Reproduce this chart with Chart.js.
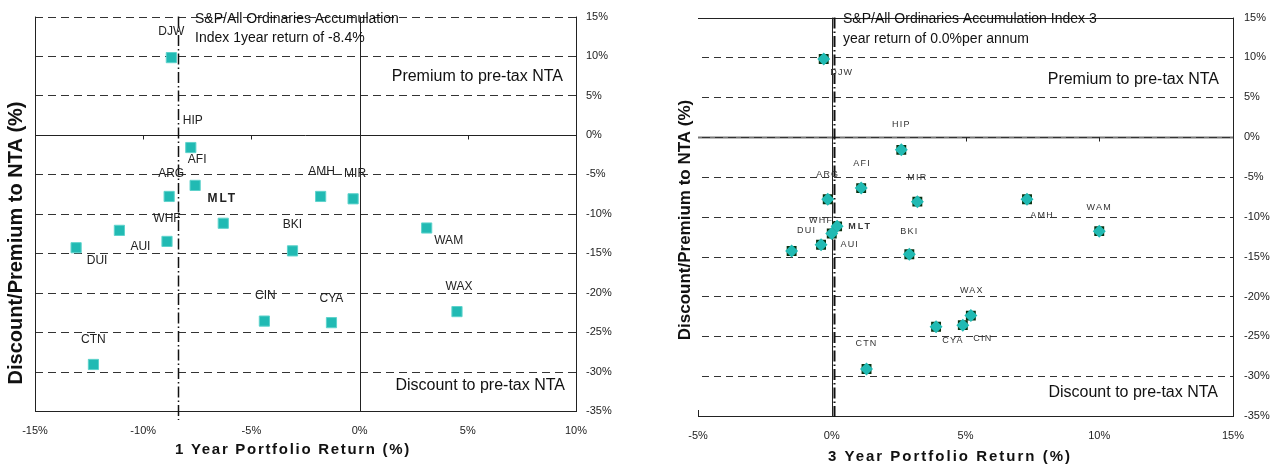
<!DOCTYPE html>
<html><head><meta charset="utf-8">
<script src="https://cdn.jsdelivr.net/npm/chart.js@4.4.1/dist/chart.umd.min.js"></script>
<style>
html,body{margin:0;padding:0;background:#fff;width:1279px;height:468px;overflow:hidden}
.box{position:absolute;top:0;height:468px}
</style></head><body>
<div class="box" style="left:0;width:640px"><canvas id="c1" width="640" height="468"></canvas></div>
<div class="box" style="left:640px;width:639px"><canvas id="c2" width="639" height="468"></canvas></div>
<script>
// ---------- data ----------
const tickers       = ['DJW','HIP','AFI','ARG','AMH','MIR','MLT','WHF','AUI','DUI','BKI','WAM','WAX','CYA','CIN','CTN'];
const premiumToNta  = [9.8,-1.6,-6.4,-7.8,-7.8,-8.1,-11.2,-13.5,-12.1,-14.3,-14.7,-11.8,-22.4,-23.8,-23.6,-29.1];
const returnOneYear = [-8.7,-7.8,-7.6,-8.8,-1.8,-0.3,-6.3,-8.9,-11.1,-13.1,-3.1,3.1,4.5,-1.3,-4.4,-12.3];
const returnThreeYear = [-0.3,2.6,1.1,-0.15,7.3,3.2,0.2,-0.4,0.0,-1.5,2.9,10.0,5.2,3.9,4.9,1.3];
const indexReturnOneYear = -8.4;
const indexReturnThreeYear = 0.0;
const xTicksOneYear = [-15,-10,-5,0,5,10];
const xTicksThreeYear = [-5,0,5,10,15];
const yTicks = [15,10,5,0,-5,-10,-15,-20,-25,-30,-35];

// ---------- styles ----------
const FONT = "'Liberation Sans', Arial, sans-serif";
const TEAL = '#21bab3';
const labelOffsetsOne = {DJW:[0,-26],HIP:[2,-27],AFI:[2,-26],ARG:[2,-23],AMH:[1,-25],MIR:[2,-25],MLT:[-1,-25],WHF:[0,-23],AUI:[21,16],DUI:[21,13],BKI:[0,-26],WAM:[22,13],WAX:[2,-25],CYA:[0,-24],CIN:[1,-25],CTN:[0,-25]};
const labelOffsetsThree = {DJW:[18,13],HIP:[0,-25],AFI:[1,-25],ARG:[0,-25],AMH:[15,16],MIR:[0,-24],MLT:[23,0],WHF:[0,-24],AUI:[18,11],DUI:[15,-21],BKI:[0,-23],WAM:[0,-24],WAX:[1,-25],CYA:[17,14],CIN:[20,13],CTN:[0,-25]};

function dashedH(ctx, x1, x2, y, dash, color, w){
  ctx.save(); ctx.beginPath(); ctx.setLineDash(dash); ctx.strokeStyle=color; ctx.lineWidth=w;
  ctx.moveTo(x1,y); ctx.lineTo(x2,y); ctx.stroke(); ctx.restore();
}
function lineV(ctx, x, y1, y2, dash, color, w){
  ctx.save(); ctx.beginPath(); ctx.setLineDash(dash); ctx.strokeStyle=color; ctx.lineWidth=w;
  ctx.moveTo(x,y1); ctx.lineTo(x,y2); ctx.stroke(); ctx.restore();
}
function text(ctx, s, x, y, font, align, spacing, color){
  ctx.save(); ctx.font=font; ctx.fillStyle=color||'#111'; ctx.textAlign=align; ctx.textBaseline='middle';
  ctx.letterSpacing = spacing||'0px'; ctx.fillText(s,x,y); ctx.restore();
}

function framePlugin(cfg){
  return {
    id:'frame',
    beforeDatasetsDraw(chart){
      const {ctx, chartArea:a, scales:{x,y}} = chart;
      const L=a.left, R=a.right, T=a.top, B=a.bottom;
      const sx = v => Math.round(x.getPixelForValue(v))+0.5;
      const sy = v => Math.round(y.getPixelForValue(v))+0.5;
      yTicks.forEach(v=>{
        if (v===0 || v===-35) return;
        if (cfg.three && v===15) return;
        dashedH(ctx, cfg.three? L+4 : L, R, sy(v), cfg.dash, '#333', 1);
      });
      if (cfg.three) { dashedH(ctx, L, R, sy(0), [], '#777', 2); dashedH(ctx, L+4, R, sy(0), [8,5], '#333', 1); }
      else dashedH(ctx, L, R, sy(0), [], '#222', 1);
      cfg.xTicks.forEach(v=>{ if (v!==0 && v!==cfg.xTicks[0] && v!==cfg.xTicks[cfg.xTicks.length-1]) lineV(ctx, sx(v), sy(0), sy(0)+4, [], '#222', 1); });
      lineV(ctx, Math.round(R)+0.5, T, B, [], '#222', 1);
      dashedH(ctx, L, R+1, Math.round(B)+0.5, [], '#222', 1.2);
      if (cfg.three) { dashedH(ctx, L, R+1, Math.round(T)+0.5, [], '#222', 1); lineV(ctx, Math.round(L)+0.5, B-6, B, [], '#222', 1); }
      else lineV(ctx, Math.round(L)+0.5, T, B, [], '#222', 1);
      lineV(ctx, sx(0), T, B, [], '#222', 1);
      lineV(ctx, sx(cfg.indexReturn)+cfg.indexShift, T, B+cfg.indexOver, [11,3,1.5,3], '#111', cfg.indexW);
      text(ctx, cfg.note1, cfg.noteX, cfg.noteY1, '14px '+FONT, 'left', '0px', '#111');
      text(ctx, cfg.note2, cfg.noteX, cfg.noteY2, '14px '+FONT, 'left', '0px', '#111');
      text(ctx, 'Premium to pre-tax NTA', R+cfg.premDX, cfg.premY, '16px '+FONT, 'right', '0px', '#111');
      text(ctx, 'Discount to pre-tax NTA', R+cfg.discDX, cfg.discY, '16px '+FONT, 'right', '0px', '#111');
    },
    afterDatasetsDraw(chart){
      const {ctx} = chart;
      const meta = chart.getDatasetMeta(0);
      meta.data.forEach((pt,i)=>{
        const name = tickers[i];
        const off = cfg.offsets[name];
        const bold = name==='MLT';
        text(ctx, name, pt.x+off[0], pt.y+off[1], (bold?'bold ':'')+cfg.labelSize+'px '+FONT, 'center', bold?'2px':cfg.labelSpacing, cfg.labelColor);
      });
    },
    afterDraw(chart){
      const {ctx} = chart;
      text(ctx, cfg.xTitle, cfg.xTitleX, cfg.xTitleY, 'bold '+cfg.xTitleSize+'px '+FONT, 'center', cfg.xTitleSpacing, '#111');
      ctx.save(); ctx.translate(cfg.yTitleX, cfg.yTitleY); ctx.rotate(-Math.PI/2);
      text(ctx, 'Discount/Premium to NTA (%)', 0, 0, 'bold '+cfg.yTitleSize+'px '+FONT, 'center', '0px', '#111');
      ctx.restore();
    }
  };
}

function buildChart(id, cfg){
  const points = tickers.map((t,i)=>({x: cfg.returns[i], y: premiumToNta[i]}));
  const datasets = [];
  // front marker (order 1 = drawn last / on top)
  datasets.push({data: points, order: 1, pointStyle: cfg.three?'rectRot':'rect', pointRadius: cfg.three?6.5:7.2, backgroundColor: TEAL, borderColor: cfg.three? TEAL : '#5fd3cc', borderWidth: cfg.three?0:1});
  if (cfg.three) datasets.push({data: points, order: 2, pointStyle:'rect', pointRadius:7, backgroundColor:'#0a300f', borderColor:'#0a300f', borderWidth:0});
  const tickFont = {family: FONT, size: 11};
  return new Chart(document.getElementById(id), {
    type:'scatter',
    data:{datasets},
    options:{
      responsive:false, animation:false, devicePixelRatio:1, events:[],
      layout:{padding:{left:cfg.padLeft, top:cfg.padTop, right:0, bottom:0}},
      plugins:{legend:{display:false}, tooltip:{enabled:false}},
      scales:{
        x:{type:'linear', min:cfg.xTicks[0], max:cfg.xTicks[cfg.xTicks.length-1],
           afterBuildTicks:s=>{ s.ticks = cfg.xTicks.map(v=>({value:v})); },
           afterFit:s=>{ s.height = cfg.xAxisH; },
           grid:{display:false, drawTicks:false}, border:{display:false},
           ticks:{callback:v=>v+'%', font:tickFont, color:'#222', padding:cfg.xTickPad, maxRotation:0, autoSkip:false}},
        y:{type:'linear', position:'right', min:-35, max:15,
           afterBuildTicks:s=>{ s.ticks = yTicks.map(v=>({value:v})); },
           afterFit:s=>{ s.width = cfg.yAxisW; },
           grid:{display:false, drawTicks:false}, border:{display:false},
           ticks:{callback:v=>v+'%', font:tickFont, color:'#222', padding:cfg.yTickPad, autoSkip:false}}
      }
    },
    plugins:[framePlugin(cfg)]
  });
}

buildChart('c1', {
  three:false, returns:returnOneYear, xTicks:xTicksOneYear, indexReturn:indexReturnOneYear,
  padLeft:35, padTop:13, xAxisH:57, yAxisW:64, xTickPad:13, yTickPad:10,
  dash:[8,5], indexShift:0, indexOver:9, indexW:1.5,
  note1:'S&P/All Ordinaries Accumulation', note2:'Index 1year return of -8.4%', noteX:195, noteY1:19, noteY2:38,
  premDX:-13, premY:77, discDX:-11, discY:386,
  offsets:labelOffsetsOne, labelSize:12, labelSpacing:'0px', labelColor:'#222',
  xTitle:'1 Year Portfolio Return (%)', xTitleX:293, xTitleY:450, xTitleSize:15, xTitleSpacing:'1.7px',
  yTitleX:16, yTitleY:243, yTitleSize:20
});
buildChart('c2', {
  three:true, returns:returnThreeYear, xTicks:xTicksThreeYear, indexReturn:indexReturnThreeYear,
  padLeft:58, padTop:14, xAxisH:52, yAxisW:46, xTickPad:13, yTickPad:11,
  dash:[7,5], indexShift:2, indexOver:2, indexW:2,
  note1:'S&P/All Ordinaries Accumulation Index 3', note2:'year return of 0.0%per annum', noteX:203, noteY1:19, noteY2:39,
  premDX:-14, premY:80, discDX:-15, discY:393,
  offsets:labelOffsetsThree, labelSize:9, labelSpacing:'1.2px', labelColor:'#333',
  xTitle:'3 Year Portfolio Return (%)', xTitleX:310, xTitleY:457, xTitleSize:15, xTitleSpacing:'2px',
  yTitleX:45, yTitleY:220, yTitleSize:17
});
</script>
</body></html>
